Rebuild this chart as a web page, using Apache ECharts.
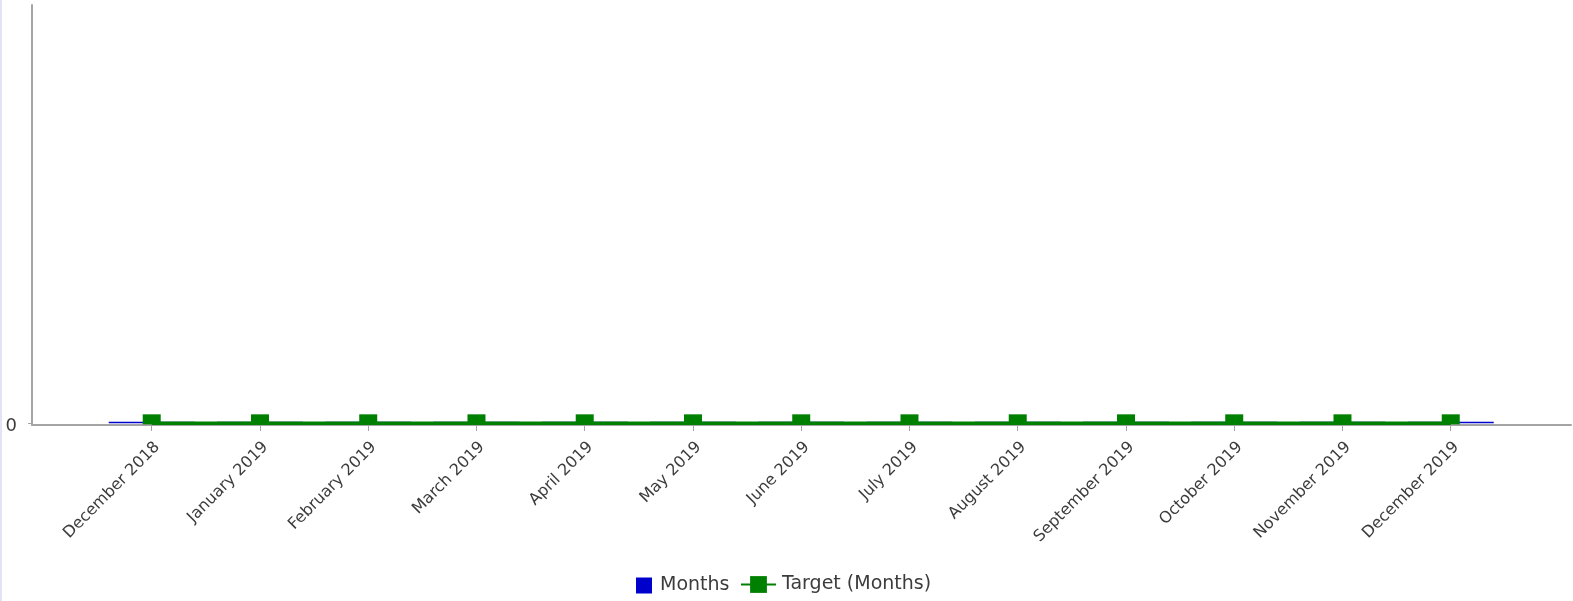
<!DOCTYPE html>
<html>
<head>
<meta charset="utf-8">
<title>Months vs Target</title>
<script src="https://cdn.jsdelivr.net/npm/echarts@6/dist/echarts.min.js"></script>
<style>
  html, body { margin: 0; padding: 0; background: #fff; }
  #chart { width: 1573px; height: 601px; }
  #edge { position: absolute; left: 0; top: 0; width: 2px; height: 601px; background: #e2e2f8; }
</style>
</head>
<body>
<div id="chart"></div>
<div id="edge"></div>
<script>
// Reporting period
const months = [
  'December 2018', 'January 2019', 'February 2019', 'March 2019', 'April 2019',
  'May 2019', 'June 2019', 'July 2019', 'August 2019', 'September 2019',
  'October 2019', 'November 2019', 'December 2019'
];
// Actual months per period
const actualMonths = [0, 0, 0, 0, 0, 0, 0, 0, 0, 0, 0, 0, 0];
// Target months per period
const targetMonths = [0, 0, 0, 0, 0, 0, 0, 0, 0, 0, 0, 0, 0];
// Y axis labels
const yTicks = [0];

const positions = months.map((m, i) => i);
const textColor = '#3c3c3c';
const axisColor = '#a4a4a4';
const font = 'DejaVu Sans, Verdana, sans-serif';

const chart = echarts.init(document.getElementById('chart'), null, { renderer: 'canvas' });

chart.setOption({
  animation: false,
  backgroundColor: '#ffffff',
  grid: { left: 32, right: 2, top: 5, bottom: 176, containLabel: false },
  legend: [
    {
      data: [{ name: 'Months', icon: 'rect' }],
      left: 636, top: 576, padding: 0,
      itemWidth: 16, itemHeight: 16,
      textStyle: { color: textColor, fontSize: 19, fontFamily: font, padding: [0, 0, 0, 3] }
    },
    {
      data: ['Target (Months)'],
      left: 740, top: 575, padding: 0,
      itemWidth: 35, itemHeight: 21,
      textStyle: { color: textColor, fontSize: 19, fontFamily: font, padding: [0, 0, 0, 1] }
    }
  ],
  xAxis: {
    type: 'value',
    min: -1.106,
    max: 13.111,
    z: 1,
    axisLine: { show: true, onZero: false, lineStyle: { color: axisColor, width: 2 } },
    axisTick: {
      show: true, length: 6, customValues: positions,
      lineStyle: { color: axisColor, width: 1 }
    },
    axisLabel: {
      customValues: positions,
      rotate: 45,
      margin: 14,
      verticalAlign: 'top',
      color: textColor,
      fontSize: 16,
      fontFamily: font,
      formatter: v => months[Math.round(v)] || ''
    },
    splitLine: { show: false }
  },
  yAxis: {
    type: 'value',
    min: -0.004,
    max: 1,
    axisLine: { show: true, onZero: false, lineStyle: { color: axisColor, width: 2 } },
    axisTick: { show: true, length: 4, customValues: yTicks, lineStyle: { color: axisColor, width: 1 } },
    axisLabel: {
      customValues: yTicks,
      margin: 15,
      color: textColor,
      fontSize: 18,
      fontFamily: font,
      verticalAlign: 'top',
      lineHeight: 6
    },
    splitLine: { show: false }
  },
  series: [
    {
      name: 'Months',
      type: 'bar',
      z: 2,
      barWidth: 86,
      barMinHeight: 1.5,
      itemStyle: { color: '#0000cc' },
      data: positions.map(i => [i, actualMonths[i]])
    },
    {
      name: 'Target (Months)',
      type: 'line',
      z: 3,
      clip: false,
      symbol: 'rect',
      symbolSize: [18, 10],
      symbolOffset: [0, -4],
      showAllSymbol: true,
      lineStyle: { color: '#008000', width: 3.5 },
      itemStyle: { color: '#008000' },
      data: positions.map(i => [i, targetMonths[i]])
    }
  ]
});
</script>
</body>
</html>
